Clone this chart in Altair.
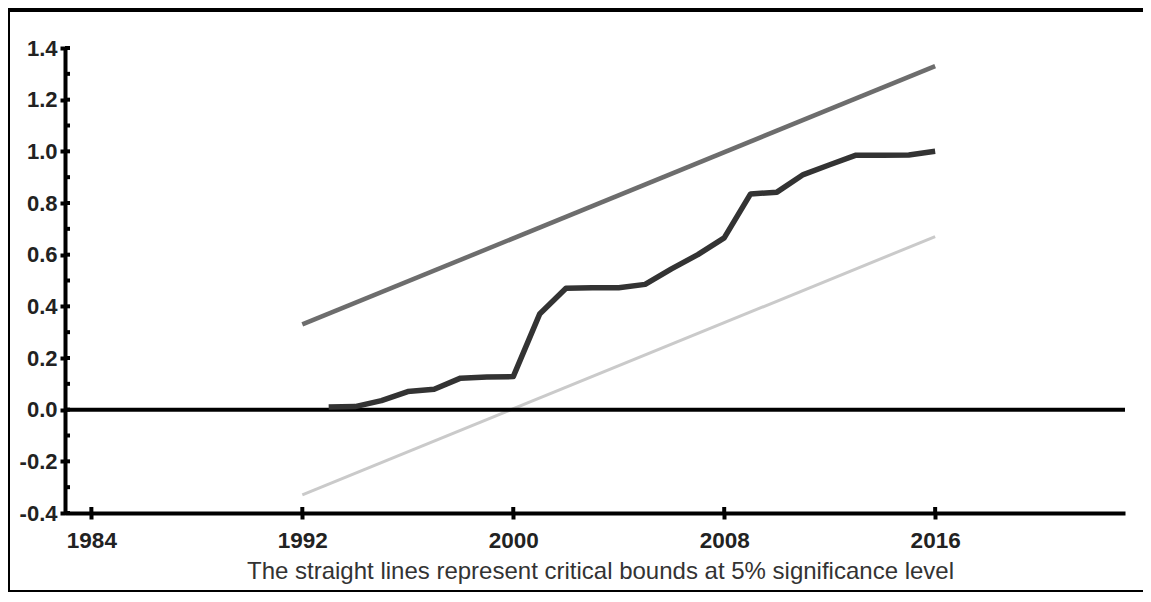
import altair as alt
import pandas as pd

# CUSUM of squares series
years = [1993, 1994, 1995, 1996, 1997, 1998, 1999, 2000, 2001, 2002, 2003, 2004,
         2005, 2006, 2007, 2008, 2009, 2010, 2011, 2012, 2013, 2014, 2015, 2016]
cusumsq = [0.01, 0.012, 0.035, 0.07, 0.079, 0.122, 0.126, 0.128, 0.37, 0.47, 0.472, 0.472,
           0.485, 0.545, 0.60, 0.665, 0.835, 0.842, 0.91, 0.948, 0.985, 0.985, 0.986, 1.0]

# 5% critical bounds (straight lines)
bound_years = [1992, 2016]
upper_bound = [0.33, 1.33]
lower_bound = [-0.33, 0.67]

# axis ticks
x_ticks = [1984, 1992, 2000, 2008, 2016]
y_ticks = [-0.4, -0.3, -0.2, -0.1, 0.0, 0.1, 0.2, 0.3, 0.4, 0.5, 0.6, 0.7, 0.8,
           0.9, 1.0, 1.1, 1.2, 1.3, 1.4]

caption = "The straight lines represent critical bounds at 5% significance level"
FONT = "Liberation Sans"
W, H = 1060, 465

df = pd.DataFrame({"year": years, "value": cusumsq})
df_up = pd.DataFrame({"year": bound_years, "value": upper_bound})
df_lo = pd.DataFrame({"year": bound_years, "value": lower_bound})
df_yt = pd.DataFrame({"v": y_ticks})
df_xt = pd.DataFrame({"t": x_ticks})

xscale = alt.Scale(domain=[1983.0, 2023.2], nice=False, zero=False)
yscale = alt.Scale(domain=[-0.4, 1.4], nice=False, zero=False)

x_axis = alt.Axis(
    values=x_ticks, format="d", title=caption,
    labelFont=FONT, labelFontSize=22.5, labelFontWeight="bold", labelColor="#222",
    labelPadding=10, tickSize=6, tickWidth=4, tickColor="black",
    domainColor="black", domainWidth=4, grid=False,
    titleFont=FONT, titleFontSize=24, titleFontWeight="normal", titleColor="#333",
    titlePadding=8, titleX=535,
)
y_axis = alt.Axis(
    values=y_ticks,
    labelExpr="abs(round(datum.value*10)) % 2 == 0 ? replace(format(datum.value, '.1f'), '\u2212', '-') : ''",
    title=None,
    labelFont=FONT, labelFontSize=22, labelFontWeight="bold", labelColor="#222",
    labelPadding=3, tickSize=5, tickWidth=4, tickColor="black",
    domainColor="black", domainWidth=4, grid=False,
)

base_x = alt.X("year:Q", scale=xscale, axis=x_axis)
base_y = alt.Y("value:Q", scale=yscale, axis=y_axis)

upper = alt.Chart(df_up).mark_line(color="#6d6d6d", strokeWidth=4.5).encode(x=base_x, y=base_y)
lower = alt.Chart(df_lo).mark_line(color="#cacaca", strokeWidth=3).encode(x=base_x, y=base_y)
zero = alt.Chart(pd.DataFrame({"z": [0.0]})).mark_rule(color="black", strokeWidth=4).encode(
    y=alt.Y("z:Q", scale=yscale))
line = alt.Chart(df).mark_line(color="#333333", strokeWidth=5.5, strokeJoin="round").encode(
    x=base_x, y=base_y)

# inner halves of tick marks (ticks cross the axis lines)
ytick_in = alt.Chart(df_yt).mark_rule(color="black", strokeWidth=4).encode(
    y=alt.Y("v:Q", scale=yscale), x=alt.value(0), x2=alt.value(5))
xtick_in = alt.Chart(df_xt).mark_rule(color="black", strokeWidth=4).encode(
    x=alt.X("t:Q", scale=xscale), y=alt.value(H), y2=alt.value(H - 6))

# outer frame
frame_top = alt.Chart(df_xt).mark_rule(color="black", strokeWidth=4).encode(
    x=alt.value(-57), x2=alt.value(W + 18), y=alt.value(-38))
frame_left = alt.Chart(df_xt).mark_rule(color="black", strokeWidth=2).encode(
    x=alt.value(-56), y=alt.value(-40), y2=alt.value(H + 78))
frame_bottom = alt.Chart(df_xt).mark_rule(color="black", strokeWidth=2).encode(
    x=alt.value(-57), x2=alt.value(W + 18), y=alt.value(H + 78))

chart = alt.layer(
    upper, lower, zero, line, ytick_in, xtick_in, frame_top, frame_left, frame_bottom
).properties(
    width=W, height=H,
    autosize=alt.AutoSizeParams(type="none"),
    padding={"left": 57, "top": 40, "right": 18, "bottom": 80},
    background="white",
).configure_view(stroke=None)

chart.save("out.html", embed_options={"renderer": "svg", "actions": False})
